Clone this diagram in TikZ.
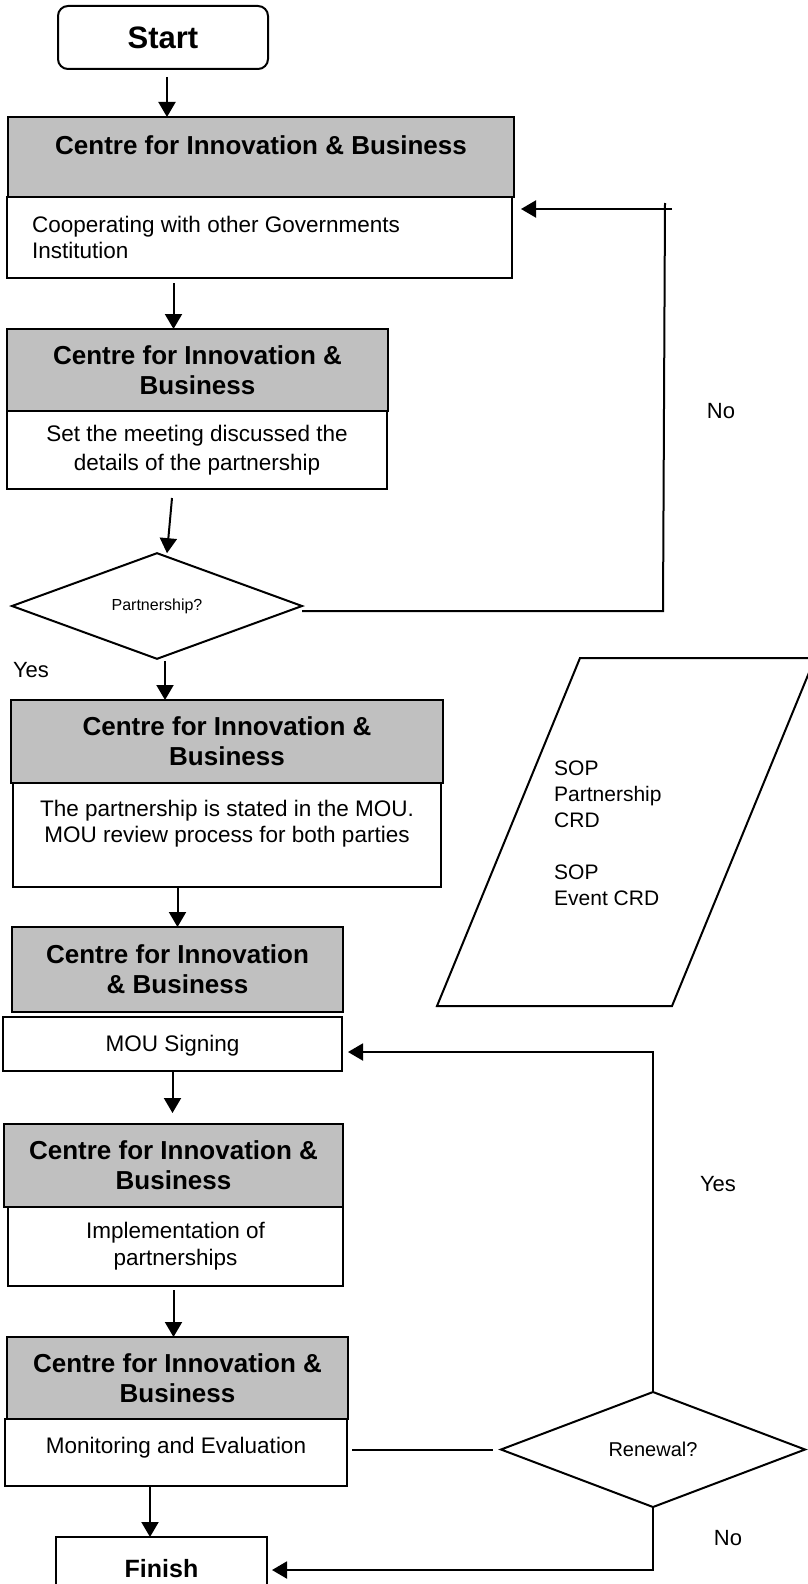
\documentclass[tikz,border=0pt]{standalone}
\usepackage{fontspec}
\setmainfont{Liberation Sans}
\usetikzlibrary{shapes.geometric,arrows.meta,calc}

\definecolor{cibgrey}{RGB}{192,192,192}

\tikzset{
  cibhead/.style={draw, line width=2pt, fill=cibgrey, inner sep=0pt, outer sep=0pt},
  cibtask/.style={draw, line width=2pt, fill=white, inner sep=0pt, outer sep=0pt},
  headtxt/.style={font=\bfseries\fontsize{26}{30}\selectfont, align=center, inner sep=0pt},
  tasktxt/.style={font=\fontsize{22.5}{27}\selectfont, align=center, inner sep=0pt},
  decision/.style={draw, diamond, line width=2pt, inner sep=0pt, outer sep=0pt},
  terminal/.style={draw, line width=2pt, inner sep=0pt, outer sep=0pt, font=\bfseries\fontsize{31}{36}\selectfont},
  lbl/.style={font=\fontsize{22}{26}\selectfont, inner sep=0pt},
  arr/.style={line width=2pt, -{Triangle[length=15pt,width=17pt]}},
  link/.style={line width=2pt},
}

\begin{document}
\begin{tikzpicture}[x=1pt,y=-1pt]
	\useasboundingbox (0,0) rectangle (807,1584);
	% start
	\node[terminal, rounded corners=10pt, minimum width=210pt, minimum height=63pt] (start) at (163,37.5) {Start};
	% step 1
	\node[cibhead, minimum width=506pt, minimum height=80pt] (h1) at (261,157) {};
	\node[headtxt] at ($(h1.center)+(0,-12)$) {Centre for Innovation \& Business};
	\node[cibtask, minimum width=505pt, minimum height=81pt] (b1) at (259.5,237.5) {};
	\node[tasktxt, align=left, anchor=west, font=\fontsize{22.5}{26}\selectfont] at ($(b1.west)+(25,0)$) {Cooperating with other Governments\\Institution};
	% step 2
	\node[cibhead, minimum width=381pt, minimum height=82pt] (h2) at (197.5,370) {};
	\node[headtxt] at (h2.center) {Centre for Innovation \&\\Business};
	\node[cibtask, minimum width=380pt, minimum height=78pt] (b2) at (197,450) {};
	\node[tasktxt, font=\fontsize{22.5}{29}\selectfont] at (b2.center) {Set the meeting discussed the\\details of the partnership};
	% decision 1
	\node[decision, minimum width=290pt, minimum height=105pt, font=\fontsize{16}{19}\selectfont] (d1) at (157,606) {Partnership?};
	\node[lbl] (yes1) at (31,670) {Yes};
	% step 3
	\node[cibhead, minimum width=432pt, minimum height=83pt] (h3) at (227,741.5) {};
	\node[headtxt] at (h3.center) {Centre for Innovation \&\\Business};
	\node[cibtask, minimum width=428pt, minimum height=104pt] (b3) at (227,835) {};
	\node[tasktxt, font=\fontsize{22.5}{26}\selectfont] at ($(b3.center)+(0,-11)$) {The partnership is stated in the MOU.\\MOU review process for both parties};
	% step 4
	\node[cibhead, minimum width=331pt, minimum height=85pt] (h4) at (177.5,969.5) {};
	\node[headtxt] at (h4.center) {Centre for Innovation\\\& Business};
	\node[cibtask, minimum width=339pt, minimum height=54pt] (b4) at (172.5,1044) {};
	\node[tasktxt] at ($(b4.center)+(0,2)$) {MOU Signing};
	% step 5
	\node[cibhead, minimum width=339pt, minimum height=83pt] (h5) at (173.5,1165.5) {};
	\node[headtxt] at (h5.center) {Centre for Innovation \&\\Business};
	\node[cibtask, minimum width=335pt, minimum height=79pt] (b5) at (175.5,1246.5) {};
	\node[tasktxt] at (b5.center) {Implementation of\\partnerships};
	% step 6
	\node[cibhead, minimum width=341pt, minimum height=82pt] (h6) at (177.5,1378) {};
	\node[headtxt] at (h6.center) {Centre for Innovation \&\\Business};
	\node[cibtask, minimum width=342pt, minimum height=67pt] (b6) at (176,1452.5) {};
	\node[tasktxt] at ($(b6.center)+(0,-5)$) {Monitoring and Evaluation};
	% decision 2
	\node[decision, minimum width=304pt, minimum height=115pt, font=\fontsize{20}{24}\selectfont] (d2) at (653,1449.5) {Renewal?\hspace{8pt}};
	% finish
	\node[terminal, minimum width=211pt, minimum height=63pt, font=\bfseries\fontsize{25}{30}\selectfont] (fin) at (161.5,1568.5) {Finish};
	% documents
	\draw[line width=2pt] (580,658) -- (815,658) -- (672,1006) -- (437,1006) -- cycle;
	\node[inner sep=0pt, anchor=north west, align=left, font=\fontsize{21}{26}\selectfont] (sop) at (554,761) {SOP\\Partnership\\CRD\\[26pt]SOP\\Event CRD};
	% main flow
	\draw[arr] ($(start.south)+(4,8)$) -- ($(start.south |- h1.north)+(4,0)$);
	\draw[arr] ($(h2.north |- b1.south)+(-24,5)$) -- ($(h2.north)+(-24,0)$);
	\draw[arr] ($(b2.south)+(-25,9)$) -- ($(d1.north)+(10,0)$);
	\draw[arr] ($(d1.south)+(8,2)$) -- ($(d1.south |- h3.north)+(8,0)$);
	\draw[arr] (h4.north |- b3.south) -- (h4.north);
	\draw[arr] (b4.south) -- ($(b4.south |- h5.north)+(0,-11)$);
	\draw[arr] ($(b5.south)+(-2,4)$) -- ($(b5.south |- h6.north)+(-2,0)$);
	\draw[arr] ($(b6.south)+(-26,0)$) -- ($(fin.north)+(-11.5,0)$);
	% no: back to step 1
	\coordinate (noBot) at (663,611);
	\coordinate (noTop) at (665,203);
	\coordinate (noEnd) at (672,209);
	\draw[link] ($(d1.east)+(0,5)$) -- (noBot) -- (noTop);
	\draw[arr] (noEnd) -- ($(b1.east |- noEnd)+(9,0)$);
	\node[lbl] (no1) at (721,411) {No};
	% renewal
	\draw[link] ($(b6.east |- d2.west)+(5,0)$) -- ($(d2.west)+(-8,0)$);
	\coordinate (yesTurn) at (653,1052);
	\draw[arr] (d2.north) -- (yesTurn) -- ($(b4.east |- yesTurn)+(6,0)$);
	\node[lbl] (yes2) at (718,1184) {Yes};
	\coordinate (noTurn) at (653,1570);
	\draw[arr] (d2.south) -- (noTurn) -- ($(fin.east |- noTurn)+(5,0)$);
	\node[lbl] (no2) at (728,1538) {No};
\end{tikzpicture}
\end{document}
